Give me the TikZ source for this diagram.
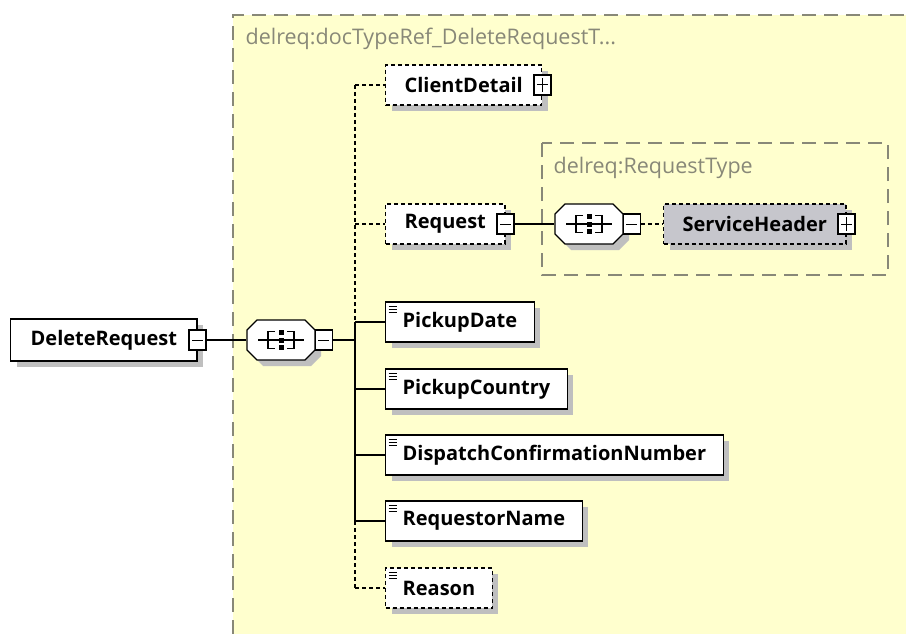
\documentclass[tikz,border=0pt]{standalone}
\usepackage{fontspec}
\setmainfont{Open Sans}
\usetikzlibrary{shadows,positioning}

\definecolor{grpfill}{RGB}{255,255,206}
\definecolor{grpline}{RGB}{136,136,120}
\definecolor{refgray}{RGB}{198,198,204}

\tikzset{
  pics/seqicon/.style={code={
    \filldraw[fill=white,shade] (-24,-20) -- (24,-20) -- (34,-10) -- (34,10)
      -- (24,20) -- (-24,20) -- (-34,10) -- (-34,-10) -- cycle;
    \draw[line width=1.2pt] (-23,0) -- (23,0);
    \draw[line width=1.2pt] (-6,-8.5) -- (-13,-8.5) -- (-13,8.5) -- (-6,8.5);
    \draw[line width=1.2pt] (6,-8.5) -- (13,-8.5) -- (13,8.5) -- (6,8.5);
    \foreach \k in {-7.5,0,7.5}
      \fill (-2.5,\k-2.5) rectangle ++(5,5);
  }}
}

\begin{document}
\begin{tikzpicture}[x=1pt,y=-1pt,line width=1.3pt,
    every node/.style={font=\fontsize{20}{24}\selectfont\bfseries},
    shade/.style={drop shadow={shadow xshift=6pt,shadow yshift=-6pt,fill=black!25,opacity=1}},
    box/.style={draw,fill=white,minimum height=40pt,inner ysep=0pt,anchor=west,shade},
    opt/.style={dash pattern=on 4pt off 3pt},
    elem/.style={box,inner xsep=17pt,
      path picture={\foreach \k in {4pt,7pt,10pt}
        \draw[solid,line width=1pt] ([xshift=3pt,yshift=-\k]path picture bounding box.north west) -- ++(8,0);}},
    cplx/.style={box,inner xsep=19pt},
    seq/.style={minimum width=68pt,minimum height=40pt,inner sep=0pt},
    minus/.style={draw,solid,fill=white,minimum width=17pt,minimum height=20pt,inner sep=0pt,
      path picture={\draw[line width=1pt] ([xshift=3pt]path picture bounding box.west)
        -- ([xshift=-3pt]path picture bounding box.east);}},
    plus/.style={draw,solid,fill=white,minimum width=17pt,minimum height=20pt,inner sep=0pt,
      path picture={\draw[line width=1pt] ([xshift=3pt]path picture bounding box.west)
        -- ([xshift=-3pt]path picture bounding box.east);
        \draw[line width=1pt] ([yshift=3pt]path picture bounding box.south)
        -- ([yshift=-3pt]path picture bounding box.north);}},
    grp/.style={grpline,line width=1.1pt,dash pattern=on 14pt off 8pt},
    grplabel/.style={font=\fontsize{21.5}{24}\selectfont,text=grpline,anchor=base west,inner sep=0pt}]
  \useasboundingbox (0,0) rectangle (906,634);

  \fill[grpfill] (233,15) rectangle (906,634);
  \draw[grp] (233,634) -- (233,15) -- (906,15);
  \node[grplabel] (outerlabel) at (245,45) {delreq:docTypeRef\_DeleteRequestT...};
  \draw[grp] (542,143) rectangle (888,275);
  \node[grplabel] (innerlabel) at (553,173) {delreq:RequestType};

  \node[box,inner xsep=20pt,minimum height=42pt] (root) at (10,340) {DeleteRequest};
  \node[minus] (rootexp) at (root.east) {};
  \node[seq] (seqA) at (281,340) {};
  \pic at (seqA) {seqicon};
  \node[minus,anchor=west] (seqAexp) at ([xshift=-1pt]seqA.east) {};
  \coordinate (bus) at (355,340);

  \node[cplx,opt] (clientdetail) at (385,85) {ClientDetail};
  \node[plus] (clientdetailexp) at (clientdetail.east) {};
  \node[cplx,opt] (request) at (385,224) {Request};
  \node[minus] (requestexp) at (request.east) {};
  \node[seq] (seqB) at (589,224) {};
  \pic at (seqB) {seqicon};
  \node[minus,anchor=west] (seqBexp) at ([xshift=-1pt]seqB.east) {};
  \node[cplx,opt,fill=refgray] (servicehdr) at (663,224) {ServiceHeader};
  \node[plus] (servicehdrexp) at (servicehdr.east) {};

  \node[elem] (pickupdate) at (385,322) {PickupDate};
  \node[elem] (pickupcountry) at (385,389) {PickupCountry};
  \node[elem] (dispatchno) at (385,455) {DispatchConfirmationNumber};
  \node[elem] (requestor) at (385,521) {RequestorName};
  \node[elem,opt] (reason) at (385,588) {Reason};

  \draw (rootexp) -- (seqA);
  \draw (seqAexp) -- (bus);
  \draw[opt] (bus |- clientdetail) -- (clientdetail);
  \draw[opt] (bus |- request) -- (request);
  \foreach \n in {pickupdate,pickupcountry,dispatchno,requestor}
    \draw (bus |- \n) -- (\n);
  \draw[opt] (bus |- reason) -- (reason);
  \draw[opt] (bus |- clientdetail) -- (bus |- pickupdate);
  \draw (bus |- pickupdate) -- (bus |- requestor);
  \draw[opt] (bus |- requestor) -- (bus |- reason);
  \draw (requestexp) -- (seqB);
  \draw[opt] (seqBexp) -- (servicehdr);
\end{tikzpicture}
\end{document}
